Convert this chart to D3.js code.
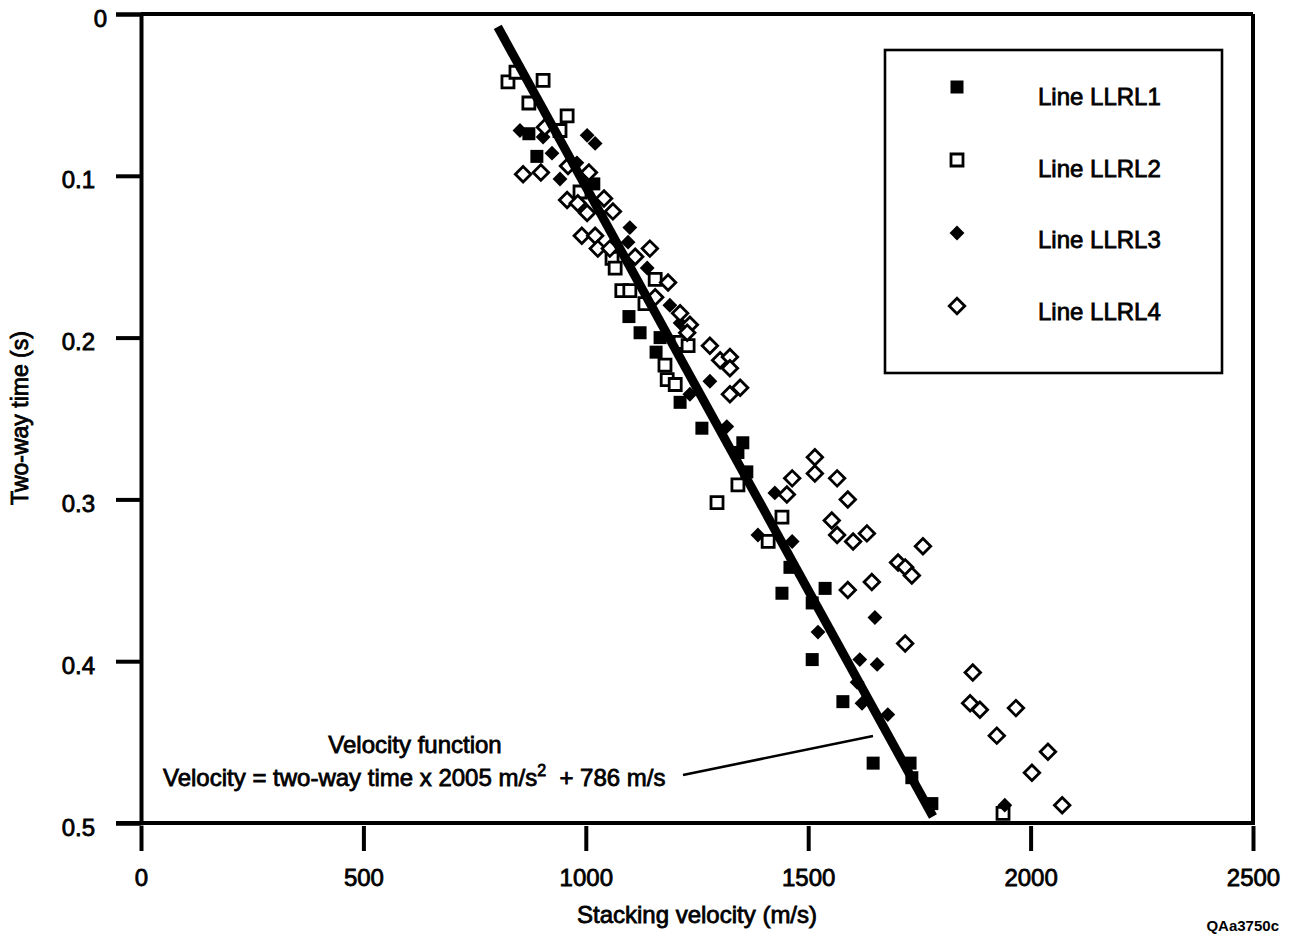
<!DOCTYPE html>
<html>
<head>
<meta charset="utf-8">
<script src="https://cdn.jsdelivr.net/npm/d3@7"></script>
<style>
  html, body { margin: 0; background: #fff; }
  svg { display: block; font-family: "Liberation Sans", Arial, Helvetica, sans-serif; }
  .txt { fill: #000; stroke: #000; stroke-width: 0.8px; paint-order: stroke; }
  .pre { white-space: pre; }
</style>
</head>
<body>
<svg id="chart" width="1290" height="935"></svg>
<script>
// Stacking velocity (m/s) vs two-way time (s), one array per seismic line
const seriesNames = ["Line LLRL1", "Line LLRL2", "Line LLRL3", "Line LLRL4"];

const llrl1 = [
  [872, 0.074], [890, 0.088], [1018, 0.105], [1097, 0.187], [1122, 0.197],
  [1167, 0.200], [1158, 0.209], [1212, 0.240], [1261, 0.256], [1353, 0.265],
  [1342, 0.271], [1362, 0.283], [1459, 0.342], [1441, 0.358], [1538, 0.355],
  [1509, 0.364], [1509, 0.399], [1578, 0.425], [1646, 0.463], [1729, 0.463],
  [1733, 0.472], [1778, 0.488]
];

const llrl2 = [
  [825, 0.042], [843, 0.036], [904, 0.041], [872, 0.055], [958, 0.063],
  [942, 0.072], [987, 0.110], [1059, 0.151], [1066, 0.157], [1081, 0.171],
  [1099, 0.171], [1133, 0.179], [1156, 0.164], [1212, 0.203], [1230, 0.205],
  [1178, 0.217], [1183, 0.226], [1201, 0.229], [1342, 0.291], [1295, 0.302],
  [1441, 0.311], [1410, 0.326], [1938, 0.494]
];

const llrl3 = [
  [852, 0.072], [904, 0.076], [1003, 0.075], [1021, 0.080], [924, 0.086],
  [980, 0.092], [942, 0.102], [1099, 0.132], [1095, 0.141], [1111, 0.149],
  [1138, 0.157], [1189, 0.180], [1212, 0.191], [1279, 0.227], [1234, 0.235],
  [1317, 0.255], [1425, 0.296], [1387, 0.322], [1464, 0.326], [1650, 0.373],
  [1522, 0.382], [1616, 0.399], [1655, 0.402], [1610, 0.413], [1621, 0.426],
  [1679, 0.433], [1942, 0.489]
];

const llrl4 = [
  [908, 0.070], [960, 0.094], [859, 0.099], [899, 0.098], [1007, 0.098],
  [958, 0.115], [1041, 0.114], [982, 0.117], [1003, 0.123], [1061, 0.122],
  [991, 0.137], [1021, 0.137], [1027, 0.145], [1054, 0.145], [1144, 0.145],
  [1111, 0.150], [1185, 0.166], [1156, 0.175], [1212, 0.185], [1234, 0.192],
  [1228, 0.197], [1279, 0.205], [1302, 0.214], [1324, 0.212], [1324, 0.219],
  [1347, 0.231], [1324, 0.235], [1515, 0.274], [1515, 0.284], [1565, 0.287],
  [1464, 0.287], [1452, 0.297], [1589, 0.300], [1553, 0.313], [1565, 0.322],
  [1601, 0.326], [1632, 0.321], [1758, 0.329], [1702, 0.339], [1718, 0.342],
  [1733, 0.347], [1589, 0.356], [1643, 0.351], [1718, 0.389], [1870, 0.407],
  [1864, 0.426], [1886, 0.430], [1967, 0.429], [1924, 0.446], [2039, 0.456],
  [2003, 0.469], [2071, 0.489]
];

const velocityTicks = [0, 500, 1000, 1500, 2000, 2500];
const timeTicks = [0, 0.1, 0.2, 0.3, 0.4, 0.5];

// Velocity function: v = t * 2005 m/s^2 + 786 m/s
const fitSlope = 2005;
const fitIntercept = 786;
const fitTimeRange = [0.008, 0.496];

const svg = d3.select("#chart");

const x = d3.scaleLinear().domain([0, 2500]).range([141, 1253]);
const y = d3.scaleLinear().domain([0, 0.5]).range([14, 823]);

// Frame: top, right and bottom edges
const frame = svg.append("g").attr("fill", "none").attr("stroke", "#000").attr("stroke-width", 4);
frame.append("line").attr("x1", x(0)).attr("x2", x(2500)).attr("y1", y(0)).attr("y2", y(0));
frame.append("line").attr("x1", x(2500)).attr("x2", x(2500)).attr("y1", y(0)).attr("y2", y(0.5));
frame.append("line").attr("x1", x(0) - 25).attr("x2", x(2500) + 2).attr("y1", y(0.5)).attr("y2", y(0.5));

// Left axis (time increases downward)
const yAxis = svg.append("g")
  .attr("transform", `translate(${x(0)},0)`)
  .call(d3.axisLeft(y).tickValues(timeTicks).tickSize(25).tickSizeOuter(25).tickPadding(21)
    .tickFormat(d => d === 0 ? "0" : d3.format(".1f")(d)));
yAxis.selectAll("path, line").attr("stroke", "#000").attr("stroke-width", 4);
yAxis.selectAll("text")
  .attr("class", "txt")
  .attr("font-size", 24)
  .attr("dy", "0.5em")
  .attr("font-family", null)
  .attr("dx", d => d === 0 ? 12 : 0);

// Bottom axis
const xAxis = svg.append("g")
  .attr("transform", `translate(0,${y(0.5)})`)
  .call(d3.axisBottom(x).tickValues(velocityTicks).tickSize(28).tickSizeOuter(0).tickPadding(18)
    .tickFormat(d3.format("d")));
xAxis.select(".domain").remove();
xAxis.selectAll("line").attr("stroke", "#000").attr("stroke-width", 4).attr("y1", 3);
xAxis.selectAll("text")
  .attr("class", "txt")
  .attr("font-size", 24)
  .attr("font-family", null);

// Axis titles
svg.append("text").attr("class", "txt")
  .attr("x", 697).attr("y", 923)
  .attr("text-anchor", "middle").attr("font-size", 24)
  .text("Stacking velocity (m/s)");

svg.append("text").attr("class", "txt")
  .attr("transform", "translate(28,418) rotate(-90)")
  .attr("text-anchor", "middle").attr("font-size", 23)
  .text("Two-way time (s)");

svg.append("text")
  .attr("x", 1279).attr("y", 931)
  .attr("text-anchor", "end").attr("font-size", 15).attr("font-weight", "bold")
  .text("QAa3750c");

// Marker shapes
const squareFilled = d3.symbol().type(d3.symbolSquare).size(169)();
const squareOpen = d3.symbol().type(d3.symbolSquare).size(144)();
const diamondFilled = d3.symbol().type(d3.symbolSquare).size(110)();
const diamondOpen = d3.symbol().type(d3.symbolSquare).size(120)();

const seriesStyles = [
  { path: squareFilled, rotate: 0, fill: "#000", stroke: "none", sw: 0 },
  { path: squareOpen, rotate: 0, fill: "#fff", stroke: "#000", sw: 2.8 },
  { path: diamondFilled, rotate: 45, fill: "#000", stroke: "none", sw: 0 },
  { path: diamondOpen, rotate: 45, fill: "#fff", stroke: "#000", sw: 2.8 }
];
const seriesData = [llrl1, llrl2, llrl3, llrl4];

seriesData.forEach((data, i) => {
  const s = seriesStyles[i];
  svg.append("g").selectAll("path")
    .data(data)
    .join("path")
    .attr("d", s.path)
    .attr("transform", d => `translate(${x(d[0])},${y(d[1])}) rotate(${s.rotate})`)
    .attr("fill", s.fill)
    .attr("stroke", s.stroke)
    .attr("stroke-width", s.sw);
});

// Fitted velocity function
const fitLine = d3.line()
  .x(t => x(t * fitSlope + fitIntercept))
  .y(t => y(t));
svg.append("path")
  .attr("d", fitLine(fitTimeRange))
  .attr("fill", "none")
  .attr("stroke", "#000")
  .attr("stroke-width", 9)
  .attr("stroke-linecap", "butt");

// Annotation for the velocity function
svg.append("text").attr("class", "txt")
  .attr("x", 415).attr("y", 753)
  .attr("text-anchor", "middle").attr("font-size", 24)
  .text("Velocity function");

const eq = svg.append("text").attr("class", "txt pre")
  .attr("x", 163).attr("y", 786)
  .attr("font-size", 24);
eq.append("tspan").text(`Velocity = two-way time x ${fitSlope} m/s`);
eq.append("tspan").attr("dy", -10).attr("font-size", 16).text("2");
eq.append("tspan").attr("dy", 10).text(`  + ${fitIntercept} m/s`);

svg.append("line")
  .attr("x1", 683).attr("y1", 775)
  .attr("x2", 873).attr("y2", 736)
  .attr("stroke", "#000").attr("stroke-width", 2.6);

// Legend
const legend = svg.append("g");
legend.append("rect")
  .attr("x", 885).attr("y", 50).attr("width", 337).attr("height", 323)
  .attr("fill", "#fff").attr("stroke", "#000").attr("stroke-width", 2.6);

seriesNames.forEach((name, i) => {
  const s = seriesStyles[i];
  const my = 87 + i * 73;
  legend.append("path")
    .attr("d", s.path)
    .attr("transform", `translate(957,${my}) rotate(${s.rotate})`)
    .attr("fill", s.fill)
    .attr("stroke", s.stroke)
    .attr("stroke-width", s.sw);
  legend.append("text").attr("class", "txt")
    .attr("x", 1038).attr("y", 105 + i * 71.7)
    .attr("font-size", 24)
    .text(name);
});
</script>
</body>
</html>
